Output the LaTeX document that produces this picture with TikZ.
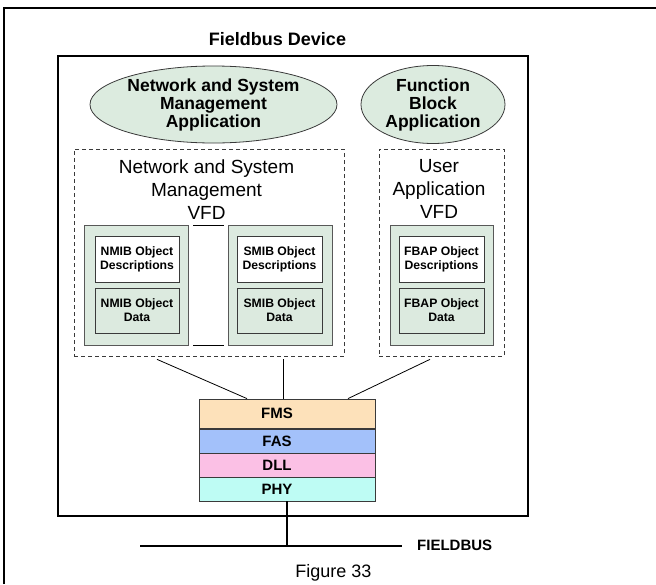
\documentclass[tikz,border=0pt]{standalone}
\usepackage{fontspec}
\setmainfont{Liberation Sans}
\usetikzlibrary{shapes.geometric,calc}
\definecolor{appgreen}{HTML}{DCEBDF}
\definecolor{boxgreen}{HTML}{DCEADF}
\definecolor{fmscol}{HTML}{FDE1BA}
\definecolor{fascol}{HTML}{A3C1FA}
\definecolor{dllcol}{HTML}{FBC0E5}
\definecolor{phycol}{HTML}{BEFCF4}
\definecolor{edge}{HTML}{3A3A3A}
\begin{document}
\begin{tikzpicture}[x=1pt,y=-1pt,
 app/.style={ellipse,draw=edge,line width=0.8pt,fill=appgreen,inner sep=0pt,align=center,font=\fontsize{17.5}{18}\selectfont\bfseries},
 vfdbox/.style={draw=edge,dash pattern=on 4pt off 3pt,line width=0.7pt,inner sep=0pt},
 vfdtext/.style={align=center,font=\fontsize{19}{23}\selectfont,inner sep=0pt},
 mibbox/.style={draw=edge!85,line width=0.9pt,fill=boxgreen,inner sep=0pt},
 descbox/.style={draw=edge,line width=0.9pt,fill=white,inner sep=0pt,align=center,font=\fontsize{12.2}{14}\selectfont\bfseries},
 databox/.style={descbox,fill=boxgreen},
 layer/.style={draw=edge,line width=0.8pt,minimum width=176pt,inner sep=0pt},
 layertext/.style={font=\fontsize{15}{18}\selectfont\bfseries,inner sep=0pt},
 conn/.style={line width=0.8pt},
 bus/.style={line width=1.6pt}]
\useasboundingbox (0,0) rectangle (656,584);
% outer frame
\draw[line width=2.5pt] (4,584) -- (4,8) -- (656,8);
% device frame
\node[draw,line width=2pt,minimum width=470pt,minimum height=460pt,inner sep=0pt] (device) at (293,286) {};
\node[anchor=base,font=\fontsize{18}{21}\selectfont\bfseries,inner sep=0pt] (title) at (277.5,45.5) {Fieldbus Device};
% applications
\node[app,minimum width=247pt,minimum height=77pt] (nsma) at (213.5,104.5) {Network and System\\Management\\Application};
\node[app,minimum width=144pt,minimum height=78pt] (fba) at (433,104.5) {Function\\Block\\Application};
% VFD boxes
\node[vfdbox,minimum width=270pt,minimum height=207pt] (vfd1) at (209,252.5) {};
\node[vfdbox,minimum width=125pt,minimum height=207pt] (vfd2) at (441.5,252.5) {};
\node[vfdtext] (vfd1t) at (206.5,189.5) {Network and System\\Management\\VFD};
\node[vfdtext] (vfd2t) at (439,189) {User\\Application\\VFD};
% MIB boxes
\node[mibbox,minimum width=104pt,minimum height=120pt] (nmib) at (136,285) {};
\node[mibbox,minimum width=104pt,minimum height=120pt] (smib) at (280,285) {};
\node[mibbox,minimum width=103pt,minimum height=120pt] (fbap) at (441.5,285) {};
\node[descbox,minimum width=84pt,minimum height=46pt] (nmibd) at (137,259) {NMIB Object\\Descriptions};
\node[databox,minimum width=84pt,minimum height=45pt] (nmibo) at (137,310.5) {NMIB Object\\Data};
\node[descbox,minimum width=85pt,minimum height=46pt] (smibd) at (279.5,259) {SMIB Object\\Descriptions};
\node[databox,minimum width=85pt,minimum height=45pt] (smibo) at (279.5,310.5) {SMIB Object\\Data};
\node[descbox,minimum width=85pt,minimum height=46pt] (fbapd) at (441.5,259) {FBAP Object\\Descriptions};
\node[databox,minimum width=85pt,minimum height=45pt] (fbapo) at (441.5,310.5) {FBAP Object\\Data};
\draw[line width=0.9pt] ([xshift=5pt,yshift=-1pt]nmib.north east) -- ([xshift=-4pt,yshift=-1pt]smib.north west);
\draw[line width=0.9pt] ([xshift=5pt]nmib.south east) -- ([xshift=-4pt]smib.south west);
% protocol stack
\node[layer,fill=fmscol,minimum height=29pt] (fms) at (287,413.5) {};
\node[layer,fill=fascol,minimum height=23.5pt] (fas) at (287,441.25) {};
\node[layer,fill=dllcol,minimum height=24pt] (dll) at (287,465) {};
\node[layer,fill=phycol,minimum height=24pt] (phy) at (287,489) {};
\node[layertext] (fmst) at ([xshift=-10pt]fms.center) {FMS};
\node[layertext] (fast) at ([xshift=-10pt]fas.center) {FAS};
\node[layertext] (dllt) at ([xshift=-10pt]dll.center) {DLL};
\node[layertext] (phyt) at ([xshift=-10pt]phy.center) {PHY};
% connectors
\draw[conn] ($(vfd1.south)+(-52,3)$) -- ($(fms.north)+(-40,0)$);
\draw[conn] ($(vfd1.south)+(74,3)$) -- ($(fms.north)+(-4,0)$);
\draw[conn] ($(vfd2.south)+(-11.5,3)$) -- ($(fms.north)+(61,0)$);
% fieldbus
\coordinate (busL) at (140,546);
\coordinate (busR) at (402,546);
\draw[bus] (busL) -- (busR);
\draw[bus] (phy.south) -- (phy.south |- busL);
\node[anchor=base west,font=\fontsize{15}{18}\selectfont\bfseries,inner sep=0pt] (fb) at (417,550.5) {FIELDBUS};
\node[anchor=base,font=\fontsize{18}{21}\selectfont,inner sep=0pt] (fig) at (333.5,577) {Figure 33};
\end{tikzpicture}
\end{document}
